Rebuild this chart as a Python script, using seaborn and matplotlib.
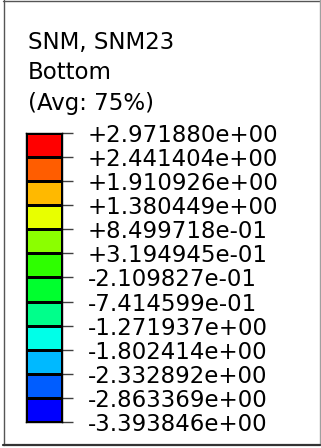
import numpy as np
import matplotlib
matplotlib.use("Agg")
import matplotlib.pyplot as plt
from matplotlib.colors import ListedColormap
from matplotlib.lines import Line2D
import seaborn as sns

title_lines = ["SNM, SNM23", "Bottom", "(Avg: 75%)"]
tick_labels = ["+2.971880e+00", "+2.441404e+00", "+1.910926e+00", "+1.380449e+00",
               "+8.499718e-01", "+3.194945e-01", "-2.109827e-01", "-7.414599e-01",
               "-1.271937e+00", "-1.802414e+00", "-2.332892e+00", "-2.863369e+00",
               "-3.393846e+00"]
band_colors = ["#FF0000", "#FF5D00", "#FFB900", "#E8FF00", "#8BFF00", "#2EFF00",
               "#00FF2E", "#00FF8B", "#00FFE8", "#00B9FF", "#005DFF", "#0000FF"]
band_index = list(range(len(band_colors)))

sns.set_theme(style="white")
plt.rcParams['font.family'] = ['DejaVu Sans']

W, H = 321, 448
fig = plt.figure(figsize=(W / 100, H / 100), dpi=100)
fig.patch.set_facecolor("white")

FS = 16.5

# colorbar axes (pixel geometry)
x0, x1, ytop, ybot = 26, 62, 133, 422
ax = fig.add_axes([x0 / W, 1 - ybot / H, (x1 - x0) / W, (ybot - ytop) / H])
data = np.array(band_index)[:, None]
sns.heatmap(data, ax=ax, cmap=ListedColormap(band_colors), vmin=-0.5,
            vmax=len(band_colors) - 0.5, cbar=False, linewidths=1.0,
            linecolor="black", xticklabels=False, yticklabels=False)
for s in ax.spines.values():
    s.set_visible(True)
    s.set_color("black")
    s.set_linewidth(1.0)
ax.set_yticks(np.arange(len(tick_labels)))
ax.set_yticklabels(tick_labels, fontsize=FS, color="black")
ax.yaxis.tick_right()
ax.tick_params(axis="y", which="both", right=True, left=False, length=8,
               width=1.0, color="#404040", pad=10.5, labelright=True, labelleft=False)
ax.tick_params(axis="x", bottom=False, top=False)

# title lines
baselines = [49, 79, 110]
for txt, b in zip(title_lines, baselines):
    fig.text(28 / W, 1 - b / H, txt, fontsize=FS, ha="left", va="baseline", color="black")

# frame around the image
def px_line(xa, ya, xb, yb, color, lw):
    fig.add_artist(Line2D([xa / W, xb / W], [1 - ya / H, 1 - yb / H],
                          transform=fig.transFigure, color=color, linewidth=lw))

px_line(3.5, 0.5, 3.5, 445, "#555555", 1.0)
px_line(3, 0.8, 320, 0.8, "#555555", 1.0)
px_line(319.5, 0, 319.5, 445, "#A0A0A0", 1.0)
px_line(3, 445, 320, 445, "#333333", 1.6)

fig.savefig("out.png", dpi=100)
